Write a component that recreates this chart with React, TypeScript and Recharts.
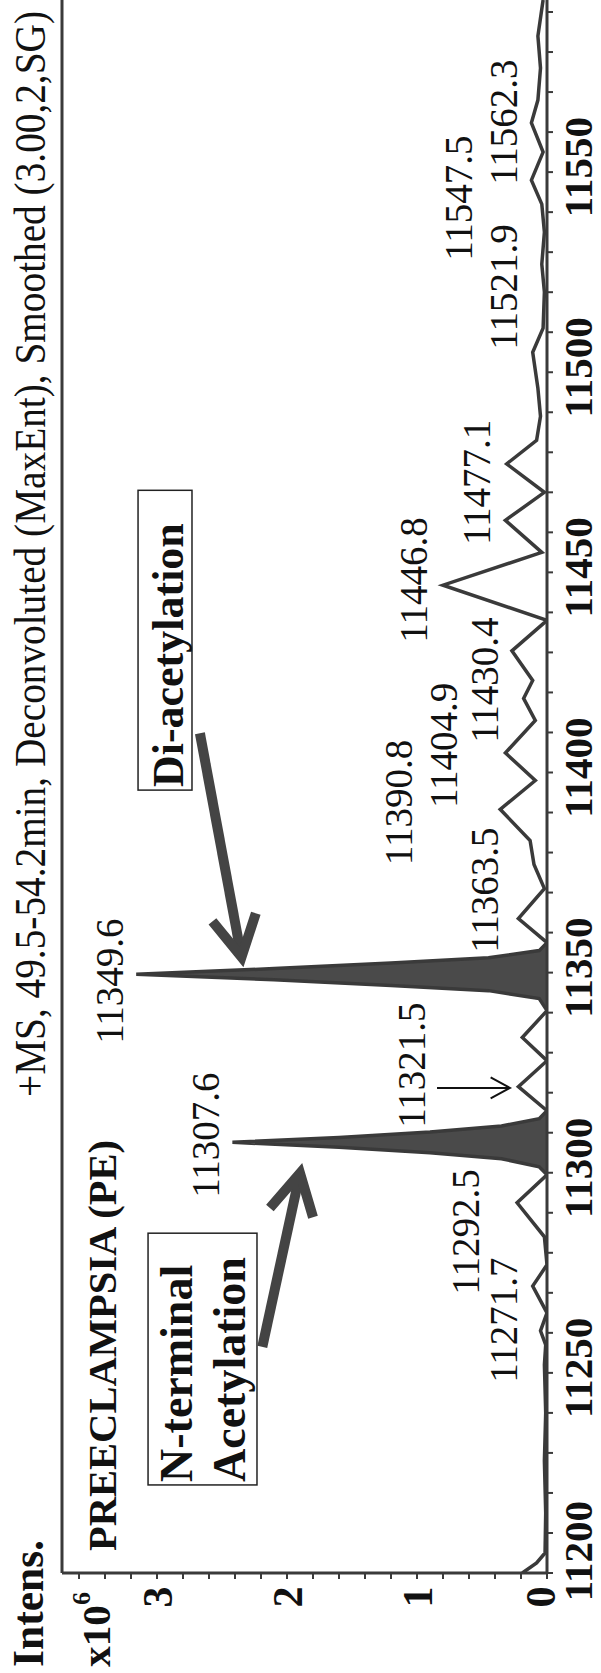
import React from 'react';
import {
  ComposedChart,
  Line,
  Area,
  XAxis,
  YAxis,
  Scatter,
  ReferenceLine,
  ReferenceArea,
} from 'recharts';

// ---------- data ----------
const mzValues = [
  11200, 11202.5, 11205, 11215, 11228, 11240, 11252, 11257, 11260.5, 11265,
  11271.7, 11277, 11284, 11292.5, 11299.5,
  11301.5, 11303.5, 11305, 11306.4, 11307.6, 11308.8, 11310.2, 11311.7, 11313.5,
  11315.5, 11321.5, 11328, 11333.8, 11340.5,
  11343.5, 11345.5, 11346.8, 11348.2, 11349.6, 11351, 11352.4, 11353.7, 11355.5,
  11357.5, 11363.5, 11371, 11377, 11383, 11390.8, 11398, 11404.9, 11413, 11418.5,
  11423, 11430.4, 11438, 11446.8, 11455, 11463, 11470, 11477.1, 11483, 11489,
  11496, 11505, 11511, 11520, 11527, 11535, 11542, 11548, 11555, 11562.3, 11568,
  11576, 11584, 11593,
];
// intensity, x10^6
const intensityValues = [
  0.19, 0.08, 0.015, 0.01, 0.02, 0.01, 0.02, 0.01, 0.05, 0.0,
  0.11, 0.0, 0.02, 0.23, 0.0,
  0.06, 0.35, 0.9, 1.6, 2.42, 1.6, 0.9, 0.35, 0.06,
  0.0, 0.22, 0.0, 0.19, 0.0,
  0.06, 0.45, 1.2, 2.1, 3.16, 2.1, 1.2, 0.45, 0.06,
  0.0, 0.22, 0.02, 0.1, 0.13, 0.36, 0.09, 0.32, 0.09, 0.18,
  0.11, 0.27, 0.0, 0.8, 0.04, 0.32, 0.02, 0.31, 0.08, 0.05,
  0.07, 0.11, 0.03, 0.02, 0.04, 0.02, 0.04, 0.12, 0.03, 0.12, 0.07,
  0.05, 0.07, 0.03,
];
// m/z ranges of the two dominant (filled) peaks
const filledPeakRanges = [
  [11299.5, 11315.5],
  [11340.5, 11357.5],
];

const peakLabels = [
  '11271.7', '11292.5', '11307.6', '11321.5', '11349.6', '11363.5', '11390.8',
  '11404.9', '11430.4', '11446.8', '11477.1', '11521.9', '11547.5', '11562.3',
];
// where each peak label sits (m/z centre, intensity level of its baseline)
const peakLabelMz = [
  11263.2, 11285.2, 11309.4, 11326.9, 11347.9, 11370.6, 11392.5,
  11406.8, 11423.1, 11448.1, 11472.5, 11521.3, 11543.5, 11562.5,
];
const peakLabelLevel = [
  0.23, 0.52, 2.52, 0.94, 3.26, 0.38, 1.04,
  0.69, 0.38, 0.92, 0.44, 0.23, 0.58, 0.23,
];

const mzMajorTicks = [11200, 11250, 11300, 11350, 11400, 11450, 11500, 11550];
const intensityTickLabels = [0, 1, 2, 3];

const MZ_MIN = 11200;
const MZ_MAX = 11593;
const INT_MAX = 3.731;

const mzAllTicks: number[] = [];
for (let m = 11200; m <= 11590; m += 10) mzAllTicks.push(m);
const intAllTicks: number[] = [];
for (let i = 0; i <= 18; i++) intAllTicks.push(Math.round(i * 2) / 10);

const rows = mzValues.map((mz, i) => {
  const inFill = filledPeakRanges.some(([a, b]) => mz >= a && mz <= b);
  return { mz, intensity: intensityValues[i], fill: inFill ? intensityValues[i] : null };
});

const labelRows = peakLabels.map((label, i) => ({
  mz: peakLabelMz[i],
  level: peakLabelLevel[i],
  label,
}));

// ---------- styling ----------
const SERIF = "'Liberation Serif', 'Times New Roman', Times, serif";
const INK = '#111';
const LINE = '#3a3a3a';

const MzTick = (props: any) => {
  const { x, payload } = props;
  const v = payload.value;
  if (!mzMajorTicks.includes(v)) return <g />;
  const shift = v === 11200 ? 22 : 5;
  return (
    <text x={x + shift} y={592} textAnchor="middle" fontFamily={SERIF} fontWeight="bold" fontSize={41} fill={INK}>
      {v}
    </text>
  );
};

const IntTick = (props: any) => {
  const { y, payload } = props;
  const v = payload.value;
  if (!intensityTickLabels.includes(v)) return <g />;
  return (
    <text x={76} y={y + (v === 0 ? 8 : 15)} textAnchor="middle" fontFamily={SERIF} fontWeight="bold" fontSize={42} fill={INK}>
      {v}
    </text>
  );
};

const LabelShape = (props: any) => {
  const { cx, cy, payload } = props;
  return (
    <text x={cx} y={cy} textAnchor="middle" fontFamily={SERIF} fontSize={39} fill={INK}>
      {payload.label}
    </text>
  );
};

const Arrow = (props: any) => {
  const { x1, y1, x2, y2, color, width, headLen, headAngle } = props;
  const ang = Math.atan2(y2 - y1, x2 - x1);
  const a1 = ang + Math.PI - headAngle;
  const a2 = ang + Math.PI + headAngle;
  const back = width * 0.6;
  const sx = x2 - back * Math.cos(ang);
  const sy = y2 - back * Math.sin(ang);
  const p1 = `${x2 + headLen * Math.cos(a1)},${y2 + headLen * Math.sin(a1)}`;
  const p2 = `${x2 + headLen * Math.cos(a2)},${y2 + headLen * Math.sin(a2)}`;
  return (
    <g>
      <line x1={x1} y1={y1} x2={sx} y2={sy} stroke={color} strokeWidth={width} />
      <polyline points={`${p1} ${x2},${y2} ${p2}`} fill="none" stroke={color} strokeWidth={width} strokeLinejoin="miter" strokeMiterlimit={10} />
    </g>
  );
};

const TextBox = (lines: string[], baselines: number[], size: number) => (props: any) => {
  const { x, y, width, height } = props;
  return (
    <g>
      <rect x={x} y={y} width={width} height={height} fill="#fff" stroke="#222" strokeWidth={1.5} />
      {lines.map((t, i) => (
        <text key={t} x={x + 3} y={y + baselines[i]} fontFamily={SERIF} fontWeight="bold" fontSize={size} fill={INK}>
          {t}
        </text>
      ))}
    </g>
  );
};

export default function App() {
  return (
    <div
      style={{
        position: 'absolute',
        left: 0,
        top: 0,
        width: 601,
        height: 1673,
        overflow: 'hidden',
        background: '#fff',
      }}
    >
      <div
        style={{
          position: 'absolute',
          left: 0,
          top: 0,
          width: 1673,
          height: 601,
          transformOrigin: '0 0',
          transform: 'rotate(-90deg) translateX(-1673px)',
        }}
      >
        <ComposedChart width={1673} height={601} data={rows} margin={{ top: 62, right: 0, bottom: 0, left: 0 }}>
          <XAxis
            dataKey="mz"
            type="number"
            domain={[MZ_MIN, MZ_MAX]}
            allowDataOverflow
            ticks={mzAllTicks}
            interval={0}
            height={54}
            tick={<MzTick />}
            tickSize={6}
            axisLine={{ stroke: LINE, strokeWidth: 3 }}
            tickLine={{ stroke: LINE, strokeWidth: 2 }}
          />
          <YAxis
            type="number"
            domain={[0, INT_MAX]}
            allowDataOverflow
            ticks={intAllTicks}
            interval={0}
            width={100}
            tick={<IntTick />}
            tickSize={6}
            axisLine={{ stroke: LINE, strokeWidth: 3 }}
            tickLine={{ stroke: LINE, strokeWidth: 2 }}
          />
          <ReferenceLine y={INT_MAX} stroke={LINE} strokeWidth={3} />
          <ReferenceArea
            x1={11222}
            x2={11284.9}
            y1={2.231}
            y2={3.069}
            shape={TextBox(['N-terminal', 'Acetylation'], [44, 97], 46)}
          />
          <ReferenceArea
            x1={11395.6}
            x2={11470.5}
            y1={2.731}
            y2={3.146}
            shape={TextBox(['Di-acetylation'], [45], 44)}
          />
          <Area
            dataKey="fill"
            type="linear"
            stroke="none"
            fill="#4a4a4a"
            fillOpacity={1}
            connectNulls={false}
            isAnimationActive={false}
            dot={false}
            activeDot={false}
          />
          <Line
            dataKey="intensity"
            type="linear"
            stroke={LINE}
            strokeWidth={3.5}
            dot={false}
            activeDot={false}
            isAnimationActive={false}
          />
          <ReferenceLine
            segment={[{ x: 11256.5, y: 2.19 }, { x: 11299.9, y: 1.9 }]}
            ifOverflow="visible"
            shape={(p: any) => <Arrow {...p} color="#444" width={10} headLen={46} headAngle={0.5} />}
          />
          <ReferenceLine
            segment={[{ x: 11409.8, y: 2.67 }, { x: 11353.9, y: 2.35 }]}
            ifOverflow="visible"
            shape={(p: any) => <Arrow {...p} color="#444" width={10} headLen={46} headAngle={0.5} />}
          />
          <ReferenceLine
            segment={[{ x: 11321.2, y: 0.846 }, { x: 11321.2, y: 0.285 }]}
            ifOverflow="visible"
            shape={(p: any) => <Arrow {...p} color="#111" width={2} headLen={22} headAngle={0.5} />}
          />
          <Scatter data={labelRows} dataKey="level" shape={<LabelShape />} isAnimationActive={false} />
        </ComposedChart>
        <svg
          width={1673}
          height={601}
          style={{ position: 'absolute', left: 0, top: 0, pointerEvents: 'none' }}
        >
          <text
            transform="translate(576,45) scale(1,1.15)"
            x={0}
            y={0}
            fontFamily={SERIF}
            fontSize={39}
            fill={INK}
            textLength={1086}
            lengthAdjust="spacingAndGlyphs"
          >
            +MS, 49.5-54.2min, Deconvoluted (MaxEnt), Smoothed (3.00,2,SG)
          </text>
          <text x={6} y={43} fontFamily={SERIF} fontWeight="bold" fontSize={44} fill={INK} textLength={127} lengthAdjust="spacingAndGlyphs">
            Intens.
          </text>
          <text x={6} y={110} fontFamily={SERIF} fontWeight="bold" fontSize={40} fill={INK} textLength={62} lengthAdjust="spacingAndGlyphs">
            x10
          </text>
          <text x={68} y={90} fontFamily={SERIF} fontWeight="bold" fontSize={26} fill={INK}>
            6
          </text>
          <text x={122} y={116} fontFamily={SERIF} fontWeight="bold" fontSize={40} fill={INK} textLength={411} lengthAdjust="spacingAndGlyphs">
            PREECLAMPSIA (PE)
          </text>
        </svg>
      </div>
    </div>
  );
}
